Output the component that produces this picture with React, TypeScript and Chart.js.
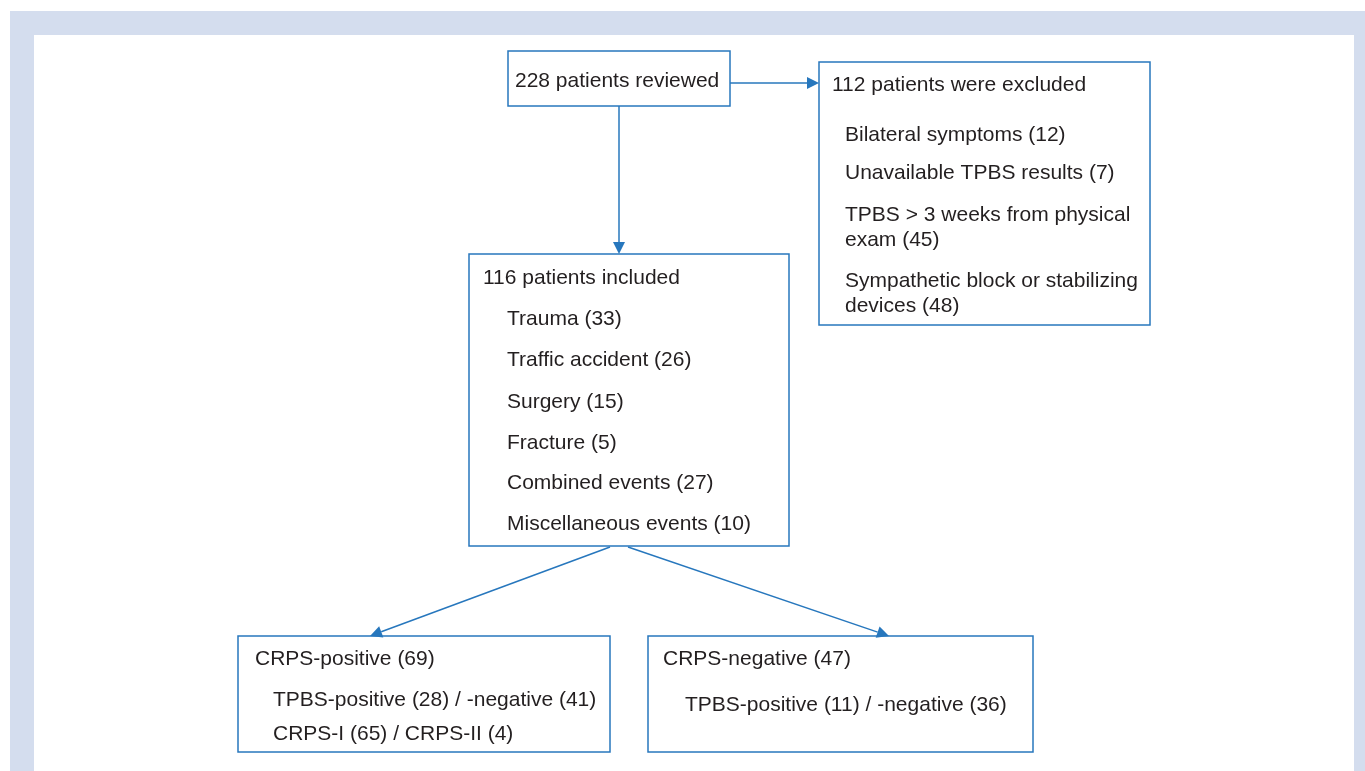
import React, { useEffect, useRef } from "react";
import { Chart, registerables } from "chart.js";

Chart.register(...registerables);

// ---- content ----
const reviewedTitle = ["228 patients reviewed"];
const excludedTitle = ["112 patients were excluded"];
const excludedReasons = [
  "Bilateral symptoms (12)",
  "Unavailable TPBS results (7)",
  "TPBS > 3 weeks from physical",
  "exam (45)",
  "Sympathetic block or stabilizing",
  "devices (48)",
];
const includedTitle = ["116 patients included"];
const includedCauses = [
  "Trauma (33)",
  "Traffic accident (26)",
  "Surgery (15)",
  "Fracture (5)",
  "Combined events (27)",
  "Miscellaneous events (10)",
];
const positiveTitle = ["CRPS-positive (69)"];
const positiveDetails = ["TPBS-positive (28) / -negative (41)", "CRPS-I (65) / CRPS-II (4)"];
const negativeTitle = ["CRPS-negative (47)"];
const negativeDetails = ["TPBS-positive (11) / -negative (36)"];

// ---- layout (scale units) ----
type Block = { texts: string[]; x: number; ys: number[] };
type Box = { x0: number; y0: number; x1: number; y1: number; blocks: Block[] };

const boxLayout: Box[] = [
  { x0: 508, y0: 51, x1: 730, y1: 106, blocks: [{ texts: reviewedTitle, x: 515, ys: [87] }] },
  {
    x0: 819, y0: 62, x1: 1150, y1: 325,
    blocks: [
      { texts: excludedTitle, x: 832, ys: [91] },
      { texts: excludedReasons, x: 845, ys: [141, 179, 221, 246, 287, 312] },
    ],
  },
  {
    x0: 469, y0: 254, x1: 789, y1: 546,
    blocks: [
      { texts: includedTitle, x: 483, ys: [284] },
      { texts: includedCauses, x: 507, ys: [325, 366, 408, 449, 489, 530] },
    ],
  },
  {
    x0: 238, y0: 636, x1: 610, y1: 752,
    blocks: [
      { texts: positiveTitle, x: 255, ys: [665] },
      { texts: positiveDetails, x: 273, ys: [706, 740] },
    ],
  },
  {
    x0: 648, y0: 636, x1: 1033, y1: 752,
    blocks: [
      { texts: negativeTitle, x: 663, ys: [665] },
      { texts: negativeDetails, x: 685, ys: [711] },
    ],
  },
];

const arrowLayout = [
  { from: [730, 83], to: [819, 83] },
  { from: [619, 106], to: [619, 254] },
  { from: [610, 547], to: [370, 636] },
  { from: [628, 547], to: [889, 636] },
];

const frameOuter = { x0: 10, y0: 11, x1: 1365, y1: 771 };
const frameInner = { x0: 34, y0: 35, x1: 1354, y1: 771 };

const BLUE = "#2777bd";
const TEXT = "#231f20";
const FRAME = "#d4ddee";
const FONT = '21px "Liberation Sans", Arial, Helvetica, sans-serif';

const flowPlugin = {
  id: "flow",
  beforeDraw(chart: any) {
    const ctx = chart.ctx as CanvasRenderingContext2D;
    const xs = chart.scales.x;
    const ys = chart.scales.y;
    const px = (v: number) => xs.getPixelForValue(v);
    const py = (v: number) => ys.getPixelForValue(v);
    ctx.save();
    ctx.fillStyle = FRAME;
    ctx.fillRect(px(frameOuter.x0), py(frameOuter.y0), px(frameOuter.x1) - px(frameOuter.x0), py(frameOuter.y1) - py(frameOuter.y0));
    ctx.fillStyle = "#ffffff";
    ctx.fillRect(px(frameInner.x0), py(frameInner.y0), px(frameInner.x1) - px(frameInner.x0), py(frameInner.y1) - py(frameInner.y0));
    ctx.restore();
  },
  afterDraw(chart: any) {
    const ctx = chart.ctx as CanvasRenderingContext2D;
    const xs = chart.scales.x;
    const ys = chart.scales.y;
    const px = (v: number) => xs.getPixelForValue(v);
    const py = (v: number) => ys.getPixelForValue(v);
    ctx.save();
    // arrows
    ctx.strokeStyle = BLUE;
    ctx.fillStyle = BLUE;
    ctx.lineWidth = 1.5;
    for (const a of arrowLayout) {
      const x0 = px(a.from[0]), y0 = py(a.from[1]);
      const x1 = px(a.to[0]), y1 = py(a.to[1]);
      const ang = Math.atan2(y1 - y0, x1 - x0);
      const L = 12, W = 6;
      const bx = x1 - L * Math.cos(ang), by = y1 - L * Math.sin(ang);
      ctx.beginPath();
      ctx.moveTo(x0, y0);
      ctx.lineTo(bx, by);
      ctx.stroke();
      ctx.beginPath();
      ctx.moveTo(x1, y1);
      ctx.lineTo(bx + W * Math.sin(ang), by - W * Math.cos(ang));
      ctx.lineTo(bx - W * Math.sin(ang), by + W * Math.cos(ang));
      ctx.closePath();
      ctx.fill();
    }
    // boxes
    for (const b of boxLayout) {
      ctx.strokeStyle = BLUE;
      ctx.lineWidth = 1.5;
      ctx.strokeRect(px(b.x0), py(b.y0), px(b.x1) - px(b.x0), py(b.y1) - py(b.y0));
      ctx.fillStyle = TEXT;
      ctx.font = FONT;
      ctx.textBaseline = "alphabetic";
      ctx.textAlign = "left";
      for (const blk of b.blocks) {
        blk.texts.forEach((t, i) => {
          ctx.fillText(t, px(blk.x), py(blk.ys[i]));
        });
      }
    }
    ctx.restore();
  },
};

export default function App() {
  const ref = useRef<HTMLCanvasElement | null>(null);
  useEffect(() => {
    if (!ref.current) return;
    const chart = new Chart(ref.current, {
      type: "scatter",
      data: { datasets: [{ data: [], pointRadius: 0 }] },
      options: {
        responsive: false,
        animation: false,
        layout: { padding: 0 },
        plugins: { legend: { display: false }, tooltip: { enabled: false } },
        scales: {
          x: { type: "linear", min: 0, max: 1365, display: false },
          y: { type: "linear", min: 0, max: 771, reverse: true, display: false },
        },
      },
      plugins: [flowPlugin],
    });
    return () => chart.destroy();
  }, []);
  return (
    <div style={{ position: "absolute", left: 0, top: 0, width: 1365, height: 771, background: "#ffffff" }}>
      <canvas ref={ref} width={1365} height={771} style={{ display: "block" }} />
    </div>
  );
}
